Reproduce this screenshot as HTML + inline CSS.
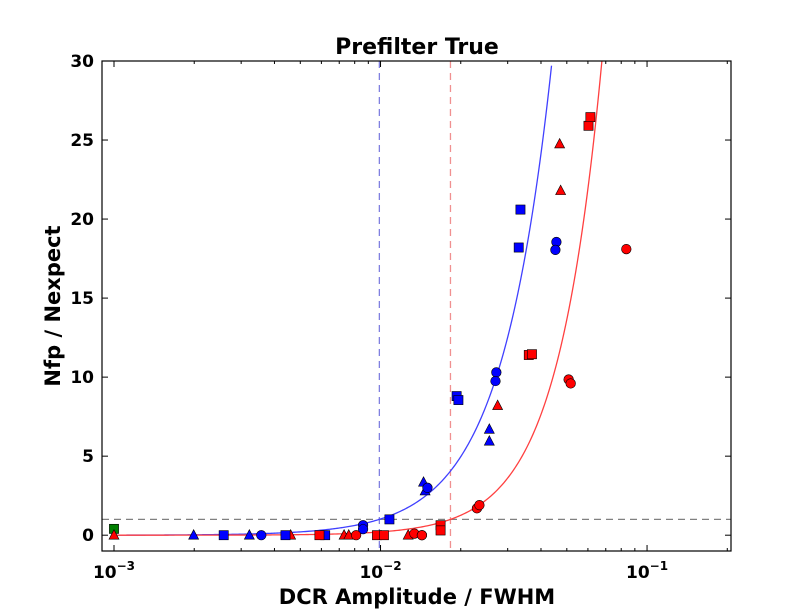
<!DOCTYPE html>
<html><head><meta charset="utf-8"><style>
body{margin:0;background:#fff;}
svg{display:block;font-family:"DejaVu Sans","Liberation Sans",sans-serif;font-weight:bold;}
</style></head><body>
<svg id="chart" width="812" height="612" viewBox="0 0 812 612" xmlns="http://www.w3.org/2000/svg">
<rect x="0" y="0" width="812" height="612" fill="#fff"/>
<text x="417" y="54" text-anchor="middle" font-size="22">Prefilter True</text>
<text x="417" y="604" text-anchor="middle" font-size="21">DCR Amplitude / FWHM</text>
<text transform="translate(60,306) rotate(-90)" text-anchor="middle" font-size="21">Nfp / Nexpect</text>
<g id="plot"></g>
</svg>
<script>
// data
const blueCircleX = [0.00357, 0.0086, 0.0086, 0.015, 0.0272, 0.027, 0.0457, 0.0453];
const blueCircleY = [0, 0.63, 0.38, 3.0, 10.3, 9.75, 18.55, 18.05];
const blueSquareX = [0.00258, 0.0044, 0.0062, 0.0108, 0.0193, 0.0196, 0.033, 0.0335];
const blueSquareY = [0, 0, 0, 1.0, 8.8, 8.55, 18.2, 20.6];
const blueTriX = [0.00199, 0.00322, 0.0145, 0.0147, 0.0256, 0.0256];
const blueTriY = [0, 0, 3.35, 2.8, 6.7, 5.95];
const redCircleX = [0.0081, 0.0134, 0.0143, 0.0143, 0.023, 0.0235, 0.0508, 0.0517, 0.0836];
const redCircleY = [0, 0.1, 0, 0, 1.7, 1.9, 9.85, 9.6, 18.1];
const redSquareX = [0.0059, 0.0097, 0.0103, 0.0168, 0.0168, 0.036, 0.037, 0.0603, 0.0613];
const redSquareY = [0, 0, 0, 0.63, 0.3, 11.4, 11.45, 25.9, 26.45];
const redTriX = [0.001, 0.0046, 0.0073, 0.0076, 0.0127, 0.0275, 0.047, 0.0474];
const redTriY = [0, 0, 0, 0, 0, 8.2, 24.75, 21.8];
const greenSquareX = [0.001];
const greenSquareY = [0.4];
const blueThreshold = 0.0099, blueExponent = 2.28;
const redThreshold = 0.0183, redExponent = 2.6;
const yTicks = [0, 5, 10, 15, 20, 25, 30];
const xTickExps = [-3, -2, -1];

const L=102,R=731,T=61,B=551;
const xmin=-3.045, xmax=-0.685;
const ymin=-1, ymax=30;
const X=v=>L+(Math.log10(v)-xmin)/(xmax-xmin)*(R-L);
const Y=v=>B-(v-ymin)/(ymax-ymin)*(B-T);
const NS="http://www.w3.org/2000/svg";
const g=document.getElementById('plot');
function mk(tag,attrs,parent){const e=document.createElementNS(NS,tag);for(const k in attrs)e.setAttribute(k,attrs[k]);(parent||g).appendChild(e);return e;}

const defs=mk('defs',{});
const cp=mk('clipPath',{id:'clip'},defs);
mk('rect',{x:L,y:T,width:R-L,height:B-T},cp);
const inner=mk('g',{'clip-path':'url(#clip)'});

let e;
e=mk('line',{x1:L,x2:R,y1:Y(1),y2:Y(1),stroke:'#808080','stroke-width':1.3,'stroke-dasharray':'7,5'},inner);


e=mk('line',{x1:X(blueThreshold),x2:X(blueThreshold),y1:T,y2:B,stroke:'#8080e0','stroke-width':1.3,'stroke-dasharray':'7,5'},inner);


e=mk('line',{x1:X(redThreshold),x2:X(redThreshold),y1:T,y2:B,stroke:'#f09090','stroke-width':1.3,'stroke-dasharray':'7,5'},inner);



function curve(x0,n,color,name,ytop){
  const xend=x0*Math.pow(ytop,1/n);
  let d='';
  for(let i=0;i<=300;i++){
    const lx=Math.log10(0.001)+(Math.log10(xend)-Math.log10(0.001))*i/300;
    const x=Math.pow(10,lx);
    const y=Math.pow(x/x0,n);
    d+=(i?'L':'M')+X(x).toFixed(2)+','+Y(y).toFixed(2);
  }
  const p=mk('path',{d:d,fill:'none',stroke:color,'stroke-width':1.3},inner);
  
  
}
curve(blueThreshold,blueExponent,'#4040ff','blue-fit-curve',29.7);
curve(redThreshold,redExponent,'#ff4040','red-fit-curve',31);

function markers(xs,ys,shape,color,name){
  xs.forEach((xv,i)=>{
    const cx=X(xv),cy=Y(ys[i]);let m;
    if(shape==='o') m=mk('circle',{cx:cx,cy:cy,r:4.8,fill:color,stroke:'#000','stroke-width':0.6});
    else if(shape==='s') m=mk('rect',{x:cx-4.6,y:cy-4.6,width:9.2,height:9.2,fill:color,stroke:'#000','stroke-width':0.6});
    else m=mk('polygon',{points:`${cx},${cy-5.5} ${cx-5},${cy+4} ${cx+5},${cy+4}`,fill:color,stroke:'#000','stroke-width':0.6});
    
    
  });
}
markers(greenSquareX,greenSquareY,'s','#008000','green-square-point');
markers(redTriX,redTriY,'^','#ff0000','red-triangle-point');
markers(blueTriX,blueTriY,'^','#0000ff','blue-triangle-point');
markers(blueSquareX,blueSquareY,'s','#0000ff','blue-square-point');
markers(blueCircleX,blueCircleY,'o','#0000ff','blue-circle-point');
markers(redSquareX,redSquareY,'s','#ff0000','red-square-point');
markers(redCircleX,redCircleY,'o','#ff0000','red-circle-point');

e=mk('rect',{x:L,y:T,width:R-L,height:B-T,fill:'none',stroke:'#000','stroke-width':1.2});



yTicks.forEach(t=>{
  const y=Y(t);
  mk('line',{x1:L,x2:L+6,y1:y,y2:y,stroke:'#000'});
  mk('line',{x1:R-6,x2:R,y1:y,y2:y,stroke:'#000'});
  const tx=mk('text',{x:L-8,y:y+6,'text-anchor':'end','font-size':17});
  tx.textContent=t;
  
  
});
for(let d=-4;d<=-1;d++){
  for(let k=1;k<10;k++){
    const v=k*Math.pow(10,d);
    const lv=Math.log10(v);
    if(lv<xmin||lv>xmax) continue;
    const x=X(v),len=k===1?6:3;
    mk('line',{x1:x,x2:x,y1:B,y2:B-len,stroke:'#000'});
    mk('line',{x1:x,x2:x,y1:T,y2:T+len,stroke:'#000'});
  }
}
xTickExps.forEach(ex=>{
  const x=X(Math.pow(10,ex));
  const tx=mk('text',{x:x,y:B+27,'text-anchor':'middle','font-size':17});
  const a=document.createElementNS(NS,'tspan');a.textContent='10';tx.appendChild(a);
  const b=document.createElementNS(NS,'tspan');b.setAttribute('dy','-8');b.setAttribute('font-size','12');b.textContent='\u2212'+Math.abs(ex);tx.appendChild(b);
  
  
});
</script>
</body></html>
